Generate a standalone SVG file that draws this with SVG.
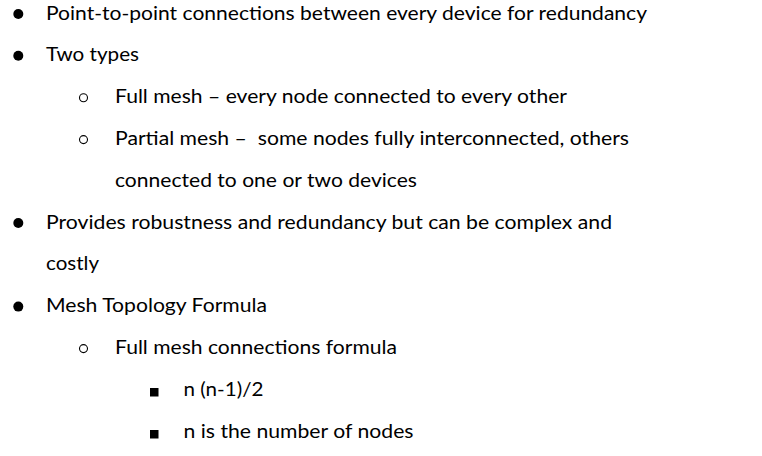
<svg xmlns="http://www.w3.org/2000/svg" width="762" height="456" viewBox="0 0 762 456">
<style>
text{font-family:Lato,"Open Sans","Liberation Sans",sans-serif;font-size:19.5px;fill:#000}
.b1{fill:#000}
.b2{fill:none;stroke:#000;stroke-width:1.1}
.b3{fill:#000}
</style>
<rect width="762" height="456" fill="#fff"/>
<g id="item1"><circle class="b1" cx="18.3" cy="14" r="5"/><text x="46" y="19.5" textLength="601" lengthAdjust="spacingAndGlyphs">Point-to-point connections between every device for redundancy</text></g>
<g id="item2"><circle class="b1" cx="18.3" cy="55.8" r="5"/><text x="46" y="61.3" textLength="93" lengthAdjust="spacingAndGlyphs">Two types</text></g>
<g id="item2a"><circle class="b2" cx="83.5" cy="97.8" r="4"/><text x="115" y="103.1" textLength="452" lengthAdjust="spacingAndGlyphs">Full mesh – every node connected to every other</text></g>
<g id="item2b"><circle class="b2" cx="83.5" cy="139.6" r="4"/><text x="115" y="144.9" textLength="514" lengthAdjust="spacingAndGlyphs" xml:space="preserve">Partial mesh –  some nodes fully interconnected, others</text><text x="115" y="186.7" textLength="302" lengthAdjust="spacingAndGlyphs">connected to one or two devices</text></g>
<g id="item3"><circle class="b1" cx="18.3" cy="223" r="5"/><text x="46" y="228.5" textLength="566" lengthAdjust="spacingAndGlyphs">Provides robustness and redundancy but can be complex and</text><text x="46" y="270.3" textLength="53" lengthAdjust="spacingAndGlyphs">costly</text></g>
<g id="item4"><circle class="b1" cx="18.3" cy="306.6" r="5"/><text x="46" y="312.1" textLength="221" lengthAdjust="spacingAndGlyphs">Mesh Topology Formula</text></g>
<g id="item4a"><circle class="b2" cx="83.5" cy="348.6" r="4"/><text x="115" y="353.9" textLength="282" lengthAdjust="spacingAndGlyphs">Full mesh connections formula</text></g>
<g id="item4a1"><rect class="b3" x="150" y="388" width="8.5" height="8.5"/><text x="183.5" y="395.7" textLength="80" lengthAdjust="spacingAndGlyphs">n (n-1)/2</text></g>
<g id="item4a2"><rect class="b3" x="150" y="430" width="8.5" height="8.5"/><text x="183.5" y="437.5" textLength="230" lengthAdjust="spacingAndGlyphs">n is the number of nodes</text></g>
</svg>
